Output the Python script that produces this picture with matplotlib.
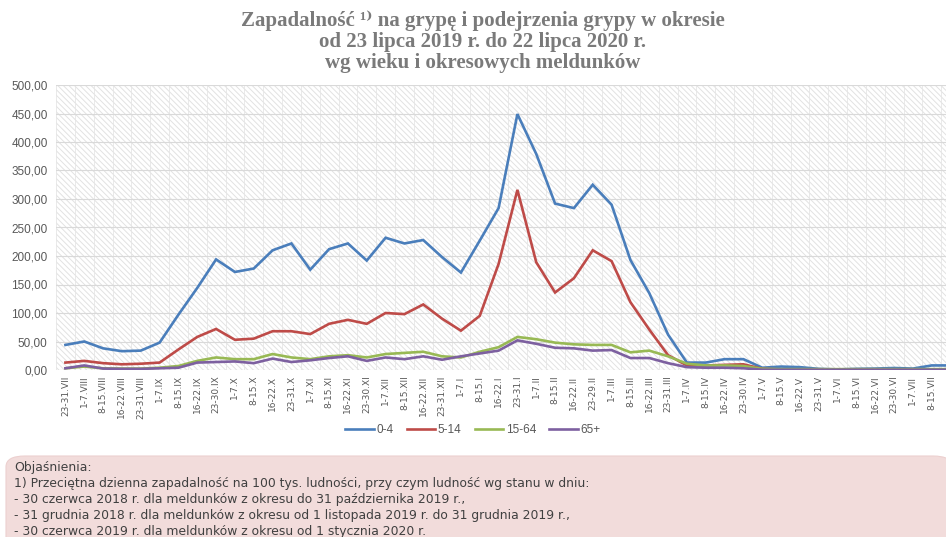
import numpy as np
import matplotlib
matplotlib.use("Agg")
import matplotlib.pyplot as plt
from matplotlib.patches import FancyBboxPatch
from matplotlib.ticker import FuncFormatter

# okresy meldunkowe
periods = ["23-31.VII", "1-7.VIII", "8-15.VIII", "16-22.VIII", "23-31.VIII",
           "1-7.IX", "8-15.IX", "16-22.IX", "23-30.IX",
           "1-7.X", "8-15.X", "16-22.X", "23-31.X",
           "1-7.XI", "8-15.XI", "16-22.XI", "23-30.XI",
           "1-7.XII", "8-15.XII", "16-22.XII", "23-31.XII",
           "1-7.I", "8-15.I", "16-22.I", "23-31.I",
           "1-7.II", "8-15.II", "16-22.II", "23-29.II",
           "1-7.III", "8-15.III", "16-22.III", "23-31.III",
           "1-7.IV", "8-15.IV", "16-22.IV", "23-30.IV",
           "1-7.V", "8-15.V", "16-22.V", "23-31.V",
           "1-7.VI", "8-15.VI", "16-22.VI", "23-30.VI",
           "1-7.VII", "8-15.VII", "16-22.VII"]

age_0_4 = [44, 50, 38, 33, 34, 48, 97, 144, 194, 172, 178, 210, 222,
           176, 212, 222, 192, 232, 222, 228, 198, 171, 227, 284, 449,
           379, 292, 284, 325, 290, 193, 135, 62, 13, 13, 19, 19,
           4, 6, 5, 2, 1, 2, 2.5, 3.5, 2.5, 8, 8]
age_5_14 = [13, 16, 12, 10, 11, 13, 36, 58, 72, 53, 55, 68, 68,
            63, 81, 88, 81, 100, 98, 115, 90, 69, 95, 186, 316,
            189, 136, 161, 210, 191, 119, 71, 26, 8, 8, 9, 10,
            2, 1, 1, 1, 1, 1, 1, 1, 1, 1, 1]
age_15_64 = [3, 6, 3, 2.5, 2.5, 4, 7, 16, 22, 19, 19, 28, 22,
             19, 24, 26, 22, 28, 30, 32, 24, 22, 32, 40, 58,
             54, 48, 45, 44, 44, 31, 34, 24, 11, 8, 8, 7,
             2, 1.5, 1.5, 1.5, 1.5, 1.5, 1.5, 1.5, 1.5, 1.5, 1.5]
age_65 = [3, 8, 2.5, 2, 2, 3, 4, 13, 14, 15, 12, 20, 14,
          17, 21, 24, 16, 22, 19, 24, 18, 24, 29, 34, 52,
          46, 39, 38, 34, 35, 21, 21, 12, 5, 4, 4, 3,
          0.5, 0.5, 0.5, 0.5, 0.5, 0.5, 0.5, 0.5, 0.5, 0.5, 0.5]

series = [("0-4", age_0_4, "#4a7ebb"),
          ("5-14", age_5_14, "#be4b48"),
          ("15-64", age_15_64, "#98b954"),
          ("65+", age_65, "#7d60a0")]

title_lines = ["Zapadalność ¹⁾ na grypę i podejrzenia grypy w okresie",
               "od 23 lipca 2019 r. do 22 lipca 2020 r.",
               "wg wieku i okresowych meldunków"]

notes = ["Objaśnienia:",
         "1) Przeciętna dzienna zapadalność na 100 tys. ludności, przy czym ludność wg stanu w dniu:",
         "- 30 czerwca 2018 r. dla meldunków z okresu do 31 października 2019 r.,",
         "- 31 grudnia 2018 r. dla meldunków z okresu od 1 listopada 2019 r. do 31 grudnia 2019 r.,",
         "- 30 czerwca 2019 r. dla meldunków z okresu od 1 stycznia 2020 r."]

plt.rcParams["hatch.color"] = "#e2e2e2"
plt.rcParams["hatch.linewidth"] = 0.7

fig = plt.figure(figsize=(9.46, 5.37), dpi=100)
ax = fig.add_axes([56 / 946, 167 / 537, 904 / 946, 285 / 537])

ax.patch.set_facecolor("white")
ax.patch.set_hatch("\\\\\\\\\\\\")
ax.patch.set_edgecolor("#e2e2e2")

x = np.arange(len(periods))
for name, vals, col in series:
    ax.plot(x, vals, color=col, lw=1.9, label=name, solid_joinstyle="miter")

ax.set_xlim(-0.5, len(periods) - 0.5)
ax.set_ylim(0, 500)
ax.set_yticks(np.arange(0, 501, 50))
ax.yaxis.set_major_formatter(FuncFormatter(lambda v, p: f"{v:.2f}".replace(".", ",")))
ax.set_xticks(x)
ax.set_xticklabels(periods, rotation=90, fontsize=6.5, color="#595959",
                   family=["Liberation Sans Narrow", "DejaVu Sans"])
ax.tick_params(axis="y", labelsize=8.5, colors="#595959", length=0, pad=6)
ax.tick_params(axis="x", length=0, pad=4)
for t in ax.get_yticklabels():
    t.set_family(["Liberation Sans", "DejaVu Sans"])

ax.set_xticks(np.arange(-0.5, len(periods), 1), minor=True)
ax.grid(True, which="major", axis="y", color="#d9d9d9", lw=0.8)
ax.grid(True, which="minor", axis="x", color="#e6e6e6", lw=0.6)
ax.tick_params(which="minor", length=0)
ax.set_axisbelow(True)
for s in ax.spines.values():
    s.set_visible(False)

fig.legend(loc="center", bbox_to_anchor=(0.5, 107 / 537), ncol=4, frameon=False,
           handlelength=2.4, columnspacing=1.1, handletextpad=0.25,
           labelcolor="#595959", prop={"family": ["Liberation Sans", "DejaVu Sans"], "size": 8.5})

# tytul - trzy osobne linie
for i, line in enumerate(title_lines):
    fig.text(0.51, 1 - (21 + 21 * i) / 537, line, ha="center", va="center",
             fontsize=15, fontweight="bold", color="#7a7a7a",
             family=["Liberation Serif", "DejaVu Serif"])

box = FancyBboxPatch((6 / 946, -0.05), 1.0, 0.05 + (537 - 456) / 537,
                     boxstyle="round,pad=0,rounding_size=0.02",
                     transform=fig.transFigure, facecolor="#f2dcdb",
                     edgecolor="#ecd0cf", lw=0.8, zorder=0)
fig.patches.append(box)

for i, line in enumerate(notes):
    fig.text(14 / 946, 1 - (468 + 16 * i) / 537, line, ha="left", va="center",
             fontsize=8.9, color="#404040",
             family=["Liberation Sans Narrow", "DejaVu Sans"])

fig.savefig("out.png", dpi=100)
